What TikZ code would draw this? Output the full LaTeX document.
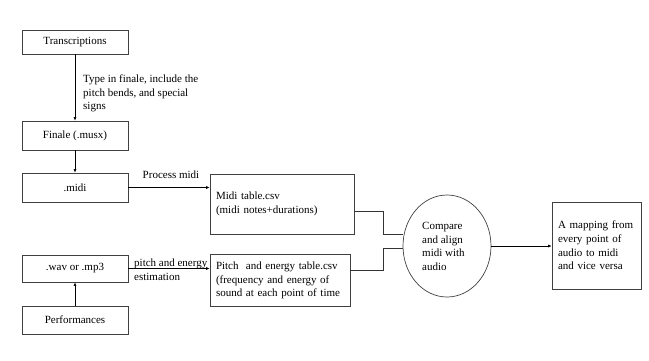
\documentclass[tikz,border=0pt]{standalone}
\usepackage{fontspec}
\setmainfont{Liberation Serif}
\usepackage{tikz}
\usetikzlibrary{arrows.meta, shapes.geometric}

\begin{document}
\begin{tikzpicture}[x=1pt, y=-1pt,
				every node/.style={font=\fontsize{11}{13.6}\selectfont},
				box/.style={rectangle, draw=black!75, line width=0.7pt, inner sep=0pt, minimum width=106pt},
				tablebox/.style={rectangle, draw=black!75, line width=0.7pt, inner sep=6pt, align=left},
				flow/.style={-{Latex[length=3.5pt, width=3pt]}, line width=0.6pt},
				link/.style={line width=0.6pt, black!80},
				annot/.style={align=left, inner sep=0pt}]
				\useasboundingbox (0,0) rectangle (649,360);
				% midi side nodes
				\node[box, minimum height=24pt] (trans) at (75, 42) {Transcriptions};
				\node[box, minimum height=29pt] (finale) at (75, 135.5) {Finale (.musx)};
				\node[box, minimum height=29pt] (midi) at (75, 187.5) {.midi};
				% audio side nodes
				\node[box, minimum height=27pt] (wav) at (75, 268.5) {.wav or .mp3};
				\node[box, minimum height=28pt] (perf) at (75, 320) {Performances};
				% table nodes
				\node[tablebox, minimum width=144pt, minimum height=60pt, text width=132pt] (midtab) at (282, 204) {Midi table.csv\\(midi notes+durations)};
				\node[tablebox, minimum width=140pt, minimum height=52pt, text width=128pt] (pitchtab) at (280, 280.5) {Pitch~ and energy table.csv\\(frequency and energy of\\sound at each point of time};
				% align and result nodes
				\node[ellipse, draw=black!75, line width=0.7pt, minimum width=88pt, minimum height=102pt, inner sep=0pt] (comp) at (447, 246) {};
				\node[annot, anchor=west] (comptxt) at (422, 246.5) {Compare\\and align\\midi with\\audio};
				\node[tablebox, minimum width=89pt, minimum height=87pt, text width=77pt] (mapping) at (596.5, 245.5) {A mapping from\\every point of\\audio to midi\\and vice versa};
				% edge labels
				\node[annot, anchor=west] (typelbl) at (83, 93.5) {Type in finale, include the\\pitch bends, and special\\signs};
				\node[annot] (proclbl) at (171, 175) {Process midi};
				\node[annot, anchor=west] (estlbl) at (134, 270) {pitch and energy\\estimation};
				% junction points
				\coordinate (ja) at (383, 211);
				\coordinate (jb) at (383, 234);
				\coordinate (jc) at (383, 270);
				\coordinate (jd) at (383, 248);
				% flow relations
				\draw[flow] (trans) -- (finale);
				\draw[flow] (finale) -- (midi);
				\draw[flow] (perf) -- (wav);
				\draw[flow] (midi.east) -- (midtab.west |- midi.east);
				\draw[flow] (wav.east) -- (pitchtab.west |- wav.east);
				\draw[flow] (comp.east) -- (mapping.west |- comp.east);
				% into compare
				\draw[link] (midtab.east |- ja) -- (ja) -- (jb) -- (comp.west |- jb);
				\draw[link] (pitchtab.east |- jc) -- (jc) -- (jd) -- (comp.west |- jd);
\end{tikzpicture}
\end{document}
